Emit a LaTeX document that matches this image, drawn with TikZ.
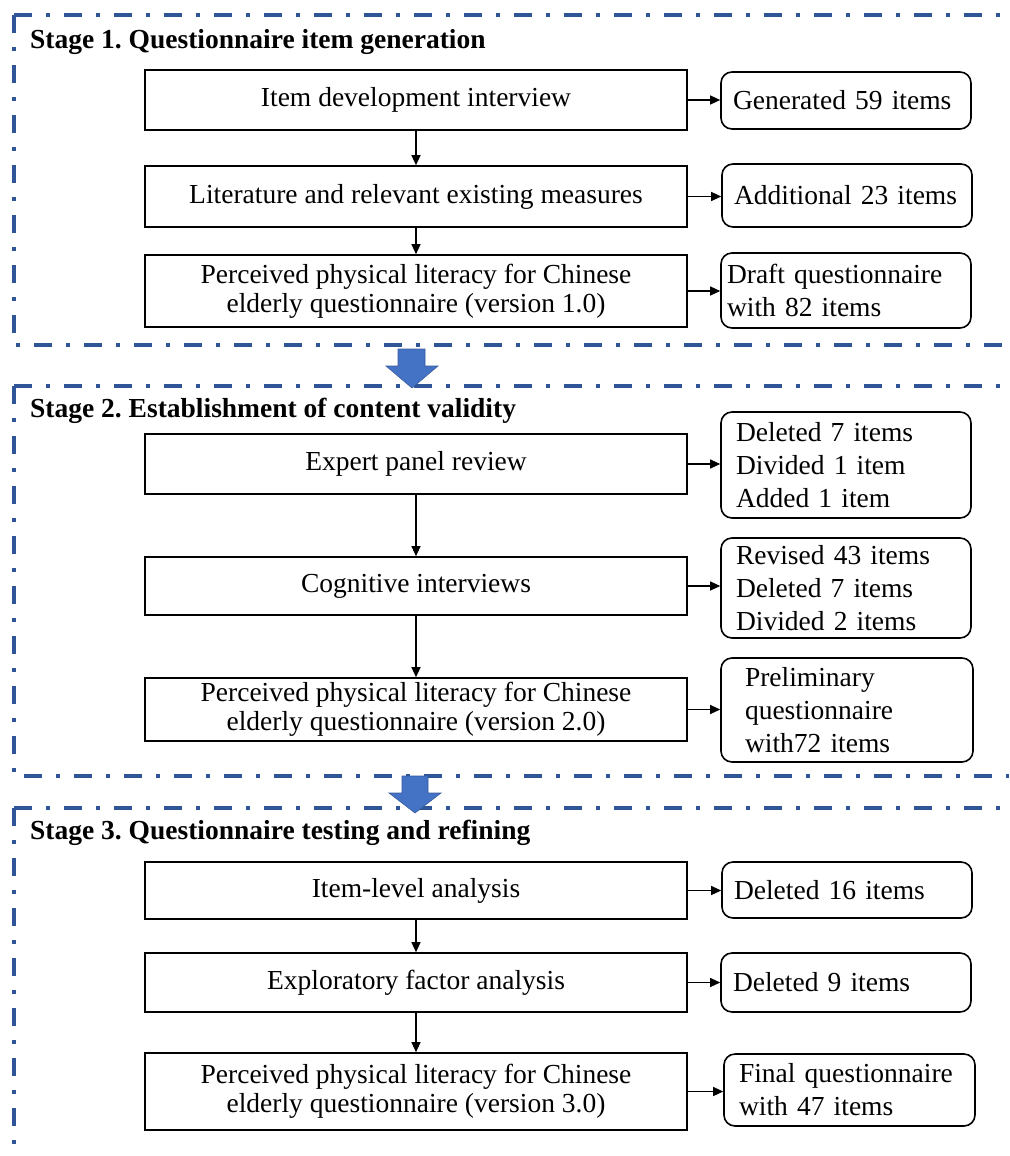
\documentclass[tikz,border=0pt]{standalone}
\usepackage{fontspec}
\setmainfont{Liberation Serif}
\usetikzlibrary{arrows.meta}
\definecolor{frameblue}{RGB}{47,85,151}
\definecolor{arrowblue}{RGB}{68,114,196}
\frenchspacing
\begin{document}
\begin{tikzpicture}[x=1pt,y=-1pt,
  font=\fontsize{27.5}{29}\selectfont,
  lbox/.style={draw, line width=1.6pt, minimum width=542pt, inner sep=0pt, align=center},
  rbox/.style={draw, line width=1.6pt, rounded corners=11pt, minimum width=250pt, inner xsep=12pt, inner ysep=0pt, text width=226pt, align=left, font=\fontsize{27.5}{33}\selectfont},
  flow/.style={line width=1.2pt, -{Triangle[length=10pt,width=9pt]}},
  stageframe/.style={draw=frameblue, line width=4pt, dash pattern=on 18pt off 14pt on 4pt off 14pt},
  stagetitle/.style={anchor=west, font=\fontsize{27.5}{29}\selectfont\bfseries, inner sep=0pt},
  bigarrow/.style={fill=arrowblue, draw=arrowblue!80!black, line width=0.6pt}]
\useasboundingbox (0,0) rectangle (1009,1156);

% stage frames
\draw[stageframe] (14,15) -- (1009,15);
\draw[stageframe] (14,15) -- (14,345) -- (1009,345);
\draw[stageframe] (14,386) -- (1009,386);
\draw[stageframe] (14,386) -- (14,776) -- (1009,776);
\draw[stageframe] (14,808) -- (1009,808);
\draw[stageframe] (14,808) -- (14,1160);

% Stage 1
\node[stagetitle] (t1) at (30,42) {Stage 1. Questionnaire item generation};
\node[lbox, minimum height=60pt] (a1) at (416,100) {Item development interview};
\node[lbox, minimum height=61pt] (a2) at (416,196.5) {Literature and relevant existing measures};
\node[lbox, minimum height=72pt] (a3) at (416,291) {Perceived physical literacy for Chinese\\elderly questionnaire (version 1.0)};
\node[rbox, minimum height=57pt] (b1) at (846,100.5) {Generated 59 items};
\node[rbox, minimum height=63pt] (b2) at (847,195.5) {Additional 23 items};
\node[rbox, minimum height=75pt, inner xsep=6pt, text width=238pt] (b3) at (846,290.5) {Draft questionnaire\\with 82 items};

% Stage 2
\node[stagetitle] (t2) at (30,411) {Stage 2. Establishment of content validity};
\node[lbox, minimum height=60pt] (c1) at (416,464) {Expert panel review};
\node[lbox, minimum height=58pt] (c2) at (416,586) {Cognitive interviews};
\node[lbox, minimum height=63pt] (c3) at (416,709.5) {Perceived physical literacy for Chinese\\elderly questionnaire (version 2.0)};
\node[rbox, minimum height=106pt, inner xsep=15pt, text width=220pt] (d1) at (846,465) {Deleted 7 items\\Divided 1 item\\Added 1 item};
\node[rbox, minimum height=100pt, inner xsep=15pt, text width=220pt] (d2) at (846,588) {Revised 43 items\\Deleted 7 items\\Divided 2 items};
\node[rbox, minimum height=104pt, inner xsep=24pt, text width=204pt] (d3) at (847,710) {Preliminary\\questionnaire\\with72 items};

% Stage 3
\node[stagetitle] (t3) at (30,833) {Stage 3. Questionnaire testing and refining};
\node[lbox, minimum height=57pt] (e1) at (416,890.5) {Item-level analysis};
\node[lbox, minimum height=59pt] (e2) at (416,982.5) {Exploratory factor analysis};
\node[lbox, minimum height=77pt] (e3) at (416,1091.5) {Perceived physical literacy for Chinese\\elderly questionnaire (version 3.0)};
\node[rbox, minimum height=56pt] (f1) at (847,890) {Deleted 16 items};
\node[rbox, minimum height=59pt] (f2) at (846,982.5) {Deleted 9 items};
\node[rbox, minimum height=72pt, inner xsep=15pt, text width=221pt] (f3) at (849.5,1090) {Final questionnaire\\with 47 items};

% vertical connectors
\draw[flow] (a1) -- (a2);
\draw[flow] (a2) -- (a3);
\draw[flow] (c1) -- (c2);
\draw[flow] (c2) -- (c3);
\draw[flow] (e1) -- (e2);
\draw[flow] (e2) -- (e3);

% horizontal connectors
\draw[flow] (a1.east) -- (a1.east -| b1.west);
\draw[flow] (a2.east) -- (a2.east -| b2.west);
\draw[flow] (a3.east) -- (a3.east -| b3.west);
\draw[flow] (c1.east) -- (c1.east -| d1.west);
\draw[flow] (c2.east) -- (c2.east -| d2.west);
\draw[flow] (c3.east) -- (c3.east -| d3.west);
\draw[flow] (e1.east) -- (e1.east -| f1.west);
\draw[flow] (e2.east) -- (e2.east -| f2.west);
\draw[flow] (e3.east) -- (e3.east -| f3.west);

% block arrows between stages
\draw[bigarrow] (398,349) -- (425,349) -- (425,366) -- (438,366) -- (412,388) -- (386,366) -- (398,366) -- cycle;
\draw[bigarrow] (402,776) -- (428,776) -- (428,793) -- (441,793) -- (415,813) -- (389,793) -- (402,793) -- cycle;
\end{tikzpicture}
\end{document}
